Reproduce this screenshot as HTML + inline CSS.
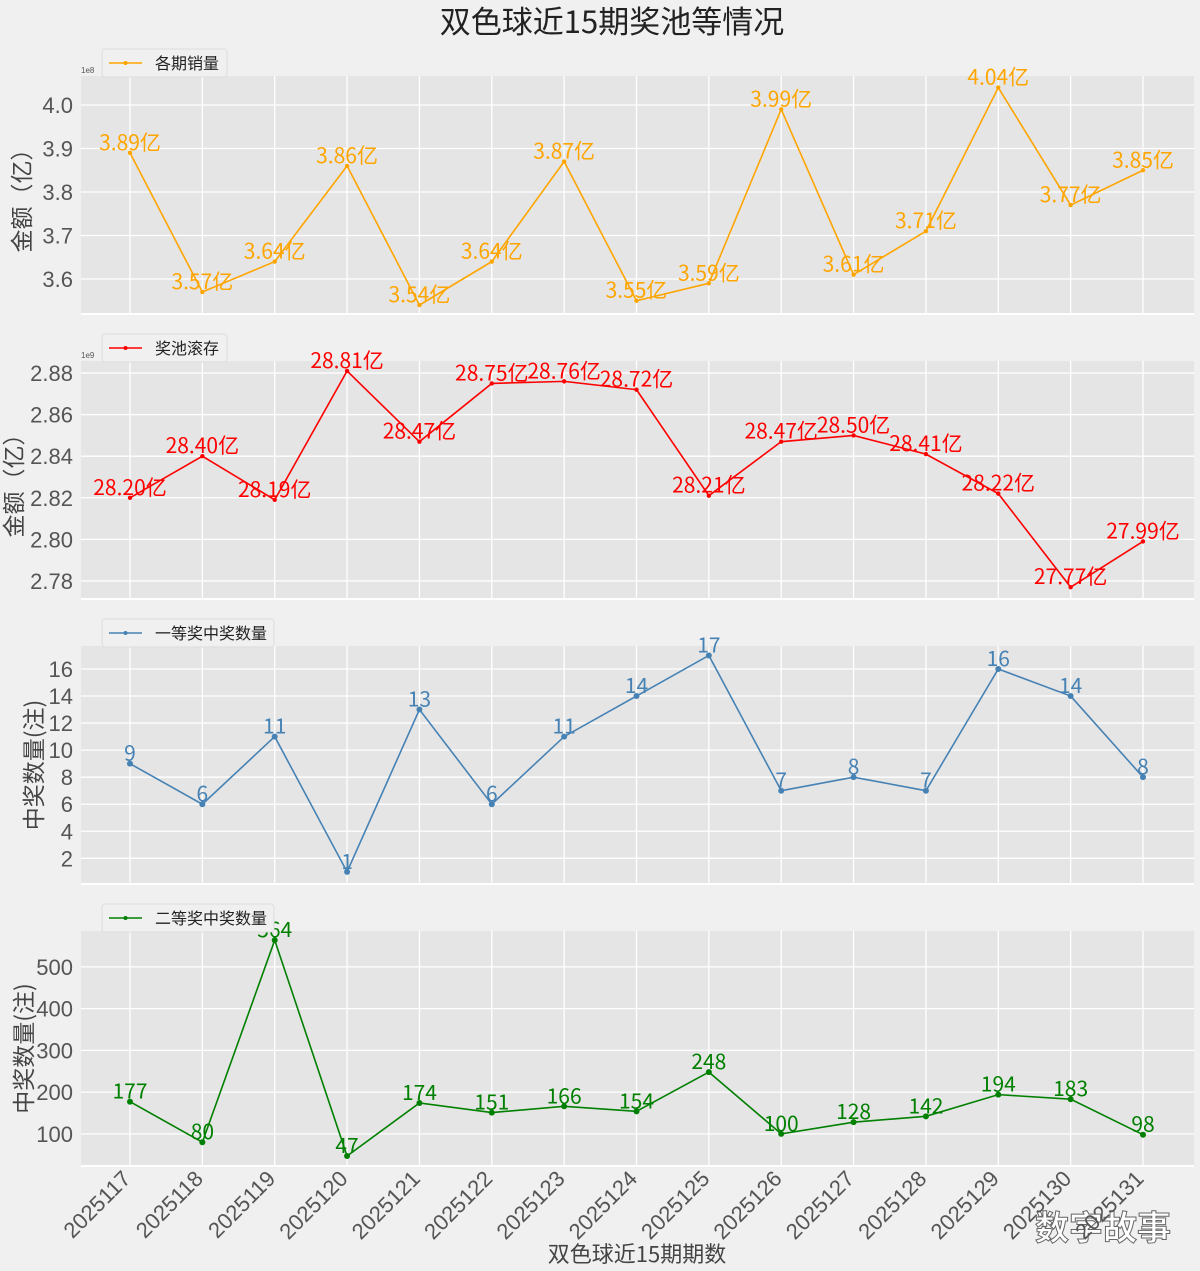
<!DOCTYPE html>
<html><head><meta charset="utf-8"><style>
body{margin:0;background:#f0f0f0;}
svg{display:block;font-family:"Liberation Sans","Noto Sans CJK SC",sans-serif;}
</style></head><body>
<svg id="chart" width="1200" height="1271" xmlns="http://www.w3.org/2000/svg">
<rect width="1200" height="1271" fill="#f0f0f0"/>
<text x="612" y="33" font-size="31" text-anchor="middle" fill="#222" font-family="Noto Sans CJK SC, sans-serif">双色球近15期奖池等情况</text>
<text x="637" y="1262" font-size="22" text-anchor="middle" fill="#444" font-family="Noto Sans CJK SC, sans-serif">双色球近15期期数</text>
<text x="1103" y="1240" font-size="34" text-anchor="middle" fill="#fff" stroke="#666" stroke-width="1" font-weight="bold" font-family="Noto Sans CJK SC, sans-serif">数字故事</text>
</svg>
<script>
const periods=["2025117","2025118","2025119","2025120","2025121","2025122","2025123","2025124","2025125","2025126","2025127","2025128","2025129","2025130","2025131"];
const sales=[3.89,3.57,3.64,3.86,3.54,3.64,3.87,3.55,3.59,3.99,3.61,3.71,4.04,3.77,3.85];
const pool=[28.20,28.40,28.19,28.81,28.47,28.75,28.76,28.72,28.21,28.47,28.50,28.41,28.22,27.77,27.99];
const first=[9,6,11,1,13,6,11,14,17,7,8,7,16,14,8];
const second=[177,80,564,47,174,151,166,154,248,100,128,142,194,183,98];
const ticks1=[3.6,3.7,3.8,3.9,4.0];
const ticks2=[2.78,2.80,2.82,2.84,2.86,2.88];
const ticks3=[2,4,6,8,10,12,14,16];
const ticks4=[100,200,300,400,500];
const NS="http://www.w3.org/2000/svg";
const svg=document.getElementById('chart');
const L=81,R=1194;
const xs=i=>130+i*(1143-130)/(periods.length-1);
function el(t,a,p){const e=document.createElementNS(NS,t);for(const k in a)e.setAttribute(k,a[k]);(p||svg).appendChild(e);return e;}
const panels=[
 {top:76,bot:314,min:3.5195,max:4.0667,vals:sales.map(v=>v),ticks:ticks1,fmt:v=>v.toFixed(1),lab:v=>v.toFixed(2)+'亿',color:'#ffa500',legend:'各期销量',ytitle:'金额（亿）',tx:30,exp:'1e8',r:2.2,name:'sales',lw:125},
 {top:361,bot:599,min:2.7713,max:2.8858,vals:pool.map(v=>v/10),ticks:ticks2,fmt:v=>v.toFixed(2),lab:v=>v.toFixed(2)+'亿',color:'#ff0000',legend:'奖池滚存',ytitle:'金额（亿）',tx:22,exp:'1e9',r:2.2,name:'pool',lw:125},
 {top:646,bot:884,min:0.1,max:17.7,vals:first,ticks:ticks3,fmt:v=>String(v),lab:v=>String(v),color:'#4682b4',legend:'一等奖中奖数量',ytitle:'中奖数量(注)',tx:42,r:3,name:'first-prize',lw:172},
 {top:931,bot:1166,min:23,max:586,vals:second,ticks:ticks4,fmt:v=>String(v),lab:v=>String(v),color:'#008000',legend:'二等奖中奖数量',ytitle:'中奖数量(注)',tx:32,r:3,name:'second-prize',lw:172}
];
const rawLabels=[sales,pool,first,second];
panels.forEach((p,pi)=>{
 const g=el('g',{});
 
 
 const y=v=>p.bot-(v-p.min)/(p.max-p.min)*(p.bot-p.top);
 const bg=el('rect',{x:L,y:p.top,width:R-L,height:p.bot-p.top,fill:'#e5e5e5'},g);
 
 
 periods.forEach((_,i)=>el('line',{x1:xs(i),x2:xs(i),y1:p.top,y2:p.bot,stroke:'#fff','stroke-width':1.3},g));
 p.ticks.forEach(t=>{
  el('line',{x1:L,x2:R,y1:y(t),y2:y(t),stroke:'#fff','stroke-width':1.3},g);
  const tx=el('text',{x:L-8,y:y(t)+8,'font-size':22,'text-anchor':'end',fill:'#555'},g);
  tx.textContent=p.fmt(t);
  
  
 });
 el('line',{x1:L,x2:R,y1:p.bot,y2:p.bot,stroke:'#fff','stroke-width':2},g);
 if(p.exp){const e=el('text',{x:L,y:p.top-3,'font-size':8,fill:'#555'},g);e.textContent=p.exp;}
 const yt=el('text',{x:0,y:0,'font-size':23,'text-anchor':'middle',fill:'#444','font-family':'Noto Sans CJK SC, sans-serif',transform:`translate(${p.tx},${(p.top+p.bot)/2}) rotate(-90)`},g);
 yt.textContent=p.ytitle;
 
 
 const pts=p.vals.map((v,i)=>xs(i)+','+y(v)).join(' ');
 const ln=el('polyline',{points:pts,fill:'none',stroke:p.color,'stroke-width':1.6},g);
 
 
 p.vals.forEach((v,i)=>{
  const c=el('circle',{cx:xs(i),cy:y(v),r:p.r,fill:p.color},g);
  
  
  const t=el('text',{x:xs(i),y:y(v)-3,'font-size':21,'text-anchor':'middle',fill:p.color,'font-family':'Noto Sans CJK SC, sans-serif'},g);
  t.textContent=p.lab(rawLabels[pi][i]);
  
  
 });
 const lg=el('g',{},g);
 
 
 el('rect',{x:102,y:p.top-27,width:p.lw,height:28,rx:3,fill:'#f0f0f0',stroke:'#ddd'},lg);
 el('line',{x1:109,x2:142,y1:p.top-13,y2:p.top-13,stroke:p.color,'stroke-width':1.6},lg);
 el('circle',{cx:125.5,cy:p.top-13,r:2,fill:p.color},lg);
 const lt=el('text',{x:155,y:p.top-7,'font-size':16,fill:'#222','font-family':'Noto Sans CJK SC, sans-serif'},lg);
 lt.textContent=p.legend;
});
periods.forEach((pd,i)=>{
 const t=el('text',{x:0,y:0,'font-size':22,'text-anchor':'end',fill:'#555',transform:`translate(${xs(i)+2},${1180}) rotate(-45)`});
 t.textContent=pd;
 
 
});
</script>
</body></html>
